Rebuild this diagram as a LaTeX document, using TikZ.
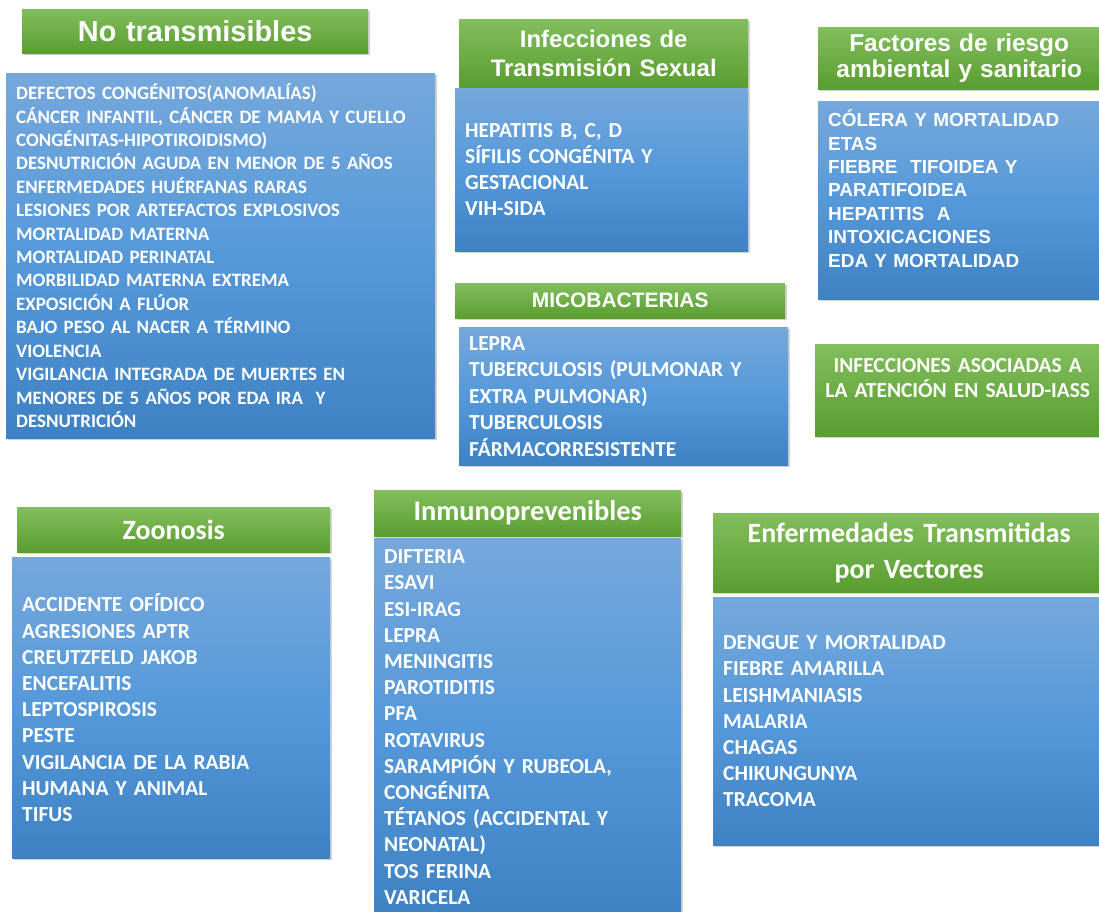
\documentclass[tikz,border=0pt]{standalone}
\usepackage{fontspec}
\setmainfont{Carlito}
\newfontfamily\arialf{Liberation Sans}
\usepackage{tikz}
\usetikzlibrary{shadows}

\definecolor{verdeA}{HTML}{82BE5D}
\definecolor{verdeB}{HTML}{5A9D30}
\definecolor{azulA}{HTML}{76A8DB}
\definecolor{azulM}{HTML}{5599DA}
\definecolor{azulB}{HTML}{3F82C4}

\begin{document}
\begin{tikzpicture}[x=1bp, y=-1bp,
    sombra/.style={drop shadow={shadow xshift=2bp, shadow yshift=-2bp, opacity=0.35}},
    cabecera/.style={anchor=north west, inner sep=0pt, align=center, text=white,
        top color=verdeA, bottom color=verdeB, sombra},
    lista/.style={anchor=north west, inner xsep=10bp, inner ysep=0pt, align=left, text=white,
        top color=azulA, bottom color=azulB, middle color=azulM, sombra}]

    % Fondo y marco
    \fill[white] (0,0) rectangle (1099,912);
    \useasboundingbox (0,0) rectangle (1099,912);

    % No transmisibles
    \node[cabecera, font=\arialf\bfseries\fontsize{29}{34}\selectfont,
        minimum width=346bp, minimum height=44bp, text width=346bp] (cabNT) at (22,9) {No transmisibles};
    \node[lista, font=\bfseries\fontsize{19}{23.5}\selectfont,
        text width=409bp, minimum height=365bp] (listaNT) at (6,73) {%
        DEFECTOS CONGÉNITOS(ANOMALÍAS)\\
        CÁNCER INFANTIL, CÁNCER DE MAMA Y CUELLO\\
        CONGÉNITAS-HIPOTIROIDISMO)\\
        DESNUTRICIÓN AGUDA EN MENOR DE 5 AÑOS\\
        ENFERMEDADES HUÉRFANAS RARAS\\
        LESIONES POR ARTEFACTOS EXPLOSIVOS\\
        MORTALIDAD MATERNA\\
        MORTALIDAD PERINATAL\\
        MORBILIDAD MATERNA EXTREMA\\
        EXPOSICIÓN A FLÚOR\\
        BAJO PESO AL NACER A TÉRMINO\\
        VIOLENCIA\\
        VIGILANCIA INTEGRADA DE MUERTES EN\\
        MENORES DE 5 AÑOS POR EDA IRA\ \ Y\\
        DESNUTRICIÓN};

    % Infecciones de transmision sexual
    \node[cabecera, font=\arialf\bfseries\fontsize{24}{29}\selectfont,
        minimum width=289bp, minimum height=68bp, text width=289bp] (cabITS) at (459,19)
        {Infecciones de\\Transmisión Sexual};
    \node[lista, font=\bfseries\fontsize{21.5}{26.3}\selectfont,
        text width=273bp, minimum height=163bp] (listaITS) at (455,88) {%
        HEPATITIS B, C, D\\
        SÍFILIS CONGÉNITA Y\\
        GESTACIONAL\\
        VIH-SIDA};

    % Micobacterias
    \node[cabecera, font=\arialf\bfseries\fontsize{21}{25}\selectfont,
        minimum width=330bp, minimum height=35bp, text width=330bp] (cabMICO) at (455,283) {MICOBACTERIAS};
    \node[lista, font=\bfseries\fontsize{21.5}{26.6}\selectfont,
        text width=309bp, minimum height=138bp] (listaMICO) at (459,327) {%
        LEPRA\\
        TUBERCULOSIS (PULMONAR Y\\
        EXTRA PULMONAR)\\
        TUBERCULOSIS\\
        FÁRMACORRESISTENTE};

    % Factores de riesgo ambiental y sanitario
    \node[cabecera, font=\arialf\bfseries\fontsize{24.5}{27}\selectfont,
        minimum width=282bp, minimum height=62bp, text width=282bp] (cabFR) at (818,27)
        {Factores de riesgo\\ambiental y sanitario};
    \node[lista, font=\arialf\bfseries\fontsize{19}{23.5}\selectfont,
        text width=262bp, minimum height=198bp] (listaFR) at (818,101) {%
        CÓLERA Y MORTALIDAD\\
        ETAS\\
        FIEBRE\ \ TIFOIDEA Y\\
        PARATIFOIDEA\\
        HEPATITIS\ \ A\\
        INTOXICACIONES\\
        EDA Y MORTALIDAD\\ \mbox{}};

    % Infecciones asociadas a la atencion en salud
    \node[cabecera, font=\bfseries\fontsize{21.5}{25}\selectfont,
        minimum width=285bp, minimum height=92bp, text width=285bp] (cabIAAS) at (815,344)
        {INFECCIONES ASOCIADAS A\\LA ATENCIÓN EN SALUD-IASS\\ \mbox{}};

    % Zoonosis
    \node[cabecera, font=\bfseries\fontsize{28}{33}\selectfont,
        minimum width=313bp, minimum height=45bp, text width=313bp] (cabZoo) at (17,507) {Zoonosis};
    \node[lista, font=\bfseries\fontsize{21.5}{26.3}\selectfont,
        text width=298bp, minimum height=301bp] (listaZoo) at (12,557) {%
        ACCIDENTE OFÍDICO\\
        AGRESIONES APTR\\
        CREUTZFELD JAKOB\\
        ENCEFALITIS\\
        LEPTOSPIROSIS\\
        PESTE\\
        VIGILANCIA DE LA RABIA\\
        HUMANA Y ANIMAL\\
        TIFUS};

    % Inmunoprevenibles
    \node[cabecera, font=\bfseries\fontsize{28.5}{33}\selectfont,
        minimum width=307bp, minimum height=46bp, text width=307bp] (cabInmuno) at (374,490) {Inmunoprevenibles};
    \node[lista, font=\bfseries\fontsize{21.5}{26.3}\selectfont,
        text width=287bp, minimum height=378bp] (listaInmuno) at (374,538) {%
        DIFTERIA\\
        ESAVI\\
        ESI-IRAG\\
        LEPRA\\
        MENINGITIS\\
        PAROTIDITIS\\
        PFA\\
        ROTAVIRUS\\
        SARAMPIÓN Y RUBEOLA,\\
        CONGÉNITA\\
        TÉTANOS (ACCIDENTAL Y\\
        NEONATAL)\\
        TOS FERINA\\
        VARICELA};

    % Enfermedades transmitidas por vectores
    \node[cabecera, font=\bfseries\fontsize{28}{36}\selectfont,
        minimum width=392bp, minimum height=79bp, text width=392bp] (cabETV) at (713,513)
        {Enfermedades Transmitidas\\por Vectores};
    \node[lista, font=\bfseries\fontsize{21.5}{26.2}\selectfont,
        text width=372bp, minimum height=248bp] (listaETV) at (713,597) {%
        DENGUE Y MORTALIDAD\\
        FIEBRE AMARILLA\\
        LEISHMANIASIS\\
        MALARIA\\
        CHAGAS\\
        CHIKUNGUNYA\\
        TRACOMA};

\end{tikzpicture}
\end{document}
